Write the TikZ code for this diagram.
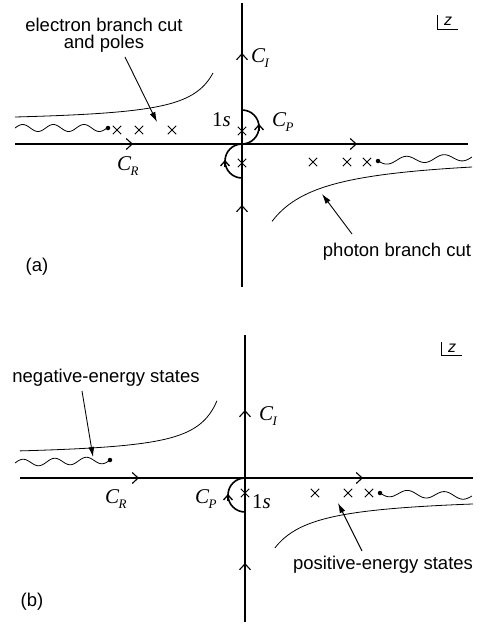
\documentclass[tikz,border=0pt]{standalone}
\usepackage{fontspec}
\setmainfont{Liberation Sans}
\newfontfamily\tms{Liberation Serif}
\usetikzlibrary{arrows.meta,shapes.misc}
\newcommand\Csub[1]{{\tms\itshape C\kern-0.5pt\raisebox{-5pt}{\fontsize{13}{13}\selectfont #1}}}
\newcommand\ones{{\tms 1\itshape s}}
\begin{document}
\begin{tikzpicture}[x=1pt,y=-1pt,
 axisline/.style={line width=1.1pt},
 loopline/.style={line width=1.6pt},
 cutline/.style={line width=0.8pt},
 wave/.style={line width=0.8pt},
 tipmk/.style={line width=1.1pt,-{Straight Barb[length=6pt,width=11pt]}},
 looptip/.style={line width=1.3pt,-{Straight Barb[length=5pt,width=9pt]}},
 pointer/.style={line width=0.9pt,-{Latex[length=10pt,width=6pt]}},
 crossmk/.style={cross out,draw,line width=0.9pt,minimum size=7.5pt,inner sep=0pt},
 lbl/.style={font=\fontsize{18.5}{17}\selectfont, inner sep=0pt, align=center},
 mlbl/.style={font=\tms\fontsize{21}{21}\selectfont, inner sep=0pt, anchor=base west},
 dotmk/.style={circle,fill,inner sep=0pt,minimum size=4.5pt},
 zlbl/.style={font=\fontsize{16}{16}\selectfont\itshape, inner sep=0pt}
]
\useasboundingbox (0,0) rectangle (482,624);

% ================= panel (a) =================
\draw[axisline] (15,144) -- (468,144);
\draw[axisline] (242,3) -- (242,287);
\draw[tipmk] (126,144) -- (133,144);
\draw[tipmk] (350,144) -- (357,144);
\draw[tipmk] (242,60) -- (242,53);
\draw[tipmk] (242,212) -- (242,205);
\draw[loopline] (242,110) arc[start angle=-90,end angle=90,radius=17];
\draw[loopline] (242,144) arc[start angle=270,end angle=90,radius=17];
\draw[looptip] (259,131) -- (259,124);
\draw[looptip] (225,167) -- (225,160);
\node[crossmk] (xa1) at (117,130) {};
\node[crossmk] (xa2) at (139,130) {};
\node[crossmk] (xa3) at (172,130) {};
\node[crossmk] (xa4) at (242,131) {};
\node[crossmk] (xa5) at (242,163) {};
\node[crossmk] (xa6) at (313,162) {};
\node[crossmk] (xa7) at (347,162) {};
\node[crossmk] (xa8) at (367,162) {};
\draw[cutline] plot[domain=15:213, samples=60, smooth] (\x, {123-1350/(240-\x)});
\draw[cutline] plot[domain=272:472, samples=60, smooth] (\x, {152.85+3566/(\x-220)});
\draw[wave] plot[domain=0:1, samples=80, smooth] ({15+\x*92}, {128-3.5*sin(1080*\x)});
\node[dotmk] (da1) at (108,128) {};
\draw[wave] plot[domain=0:1, samples=80, smooth] ({378+\x*94}, {161-\x*4+3.5*sin(900*\x)});
\node[dotmk] (da2) at (378,161) {};
\node[lbl] (elab) at (104,35) {electron branch cut\\and poles};
\coordinate (es) at (125,57);
\coordinate (et) at (157,122);
\draw[pointer] (es) -- (et);
\node[lbl] (plab) at (397,252) {photon branch cut};
\coordinate (ps) at (352,234);
\coordinate (pt) at (322,194);
\draw[pointer] (ps) -- (pt);
\node[mlbl] (cia) at (251,62) {\Csub{I}};
\node[mlbl] (cpa) at (272,126) {\Csub{P}};
\node[mlbl] (osa) at (212,126) {\ones};
\node[mlbl] (cra) at (117,170) {\Csub{R}};
\node[lbl] (la) at (37,267) {(a)};
\draw[line width=0.8pt] (437,15) -- (437,29) -- (458,29);
\node[zlbl] (za) at (448,21) {z};

% ================= panel (b) =================
\draw[axisline] (20,478) -- (473,478);
\draw[axisline] (245,335) -- (245,622);
\draw[tipmk] (132,478) -- (139,478);
\draw[tipmk] (356,478) -- (363,478);
\draw[tipmk] (245,417) -- (245,410);
\draw[tipmk] (245,570) -- (245,563);
\draw[loopline] (245,478) arc[start angle=270,end angle=90,radius=17];
\draw[looptip] (228,501) -- (228,494);
\node[crossmk] (xb1) at (245,493) {};
\node[crossmk] (xb2) at (315,493) {};
\node[crossmk] (xb3) at (348,493) {};
\node[crossmk] (xb4) at (369,493) {};
\draw[cutline] plot[domain=20:217, samples=60, smooth] (\x, {457-1350/(241-\x)});
\draw[cutline] plot[domain=275:473, samples=60, smooth] (\x, {494.9+2169/(\x-234)});
\draw[wave] plot[domain=0:1, samples=80, smooth] ({15+\x*95}, {463-\x*3-3.5*sin(1080*\x)});
\node[dotmk] (db1) at (110,460) {};
\draw[wave] plot[domain=0:1, samples=80, smooth] ({380+\x*92}, {493+\x*3+3.5*sin(900*\x)});
\node[dotmk] (db2) at (380,493) {};
\node[lbl] (nlab) at (106,378) {negative-energy states};
\coordinate (ns) at (82,391);
\coordinate (nt) at (93,457);
\draw[pointer] (ns) -- (nt);
\node[lbl] (poslab) at (383,565) {positive-energy states};
\coordinate (qs) at (362,551);
\coordinate (qt) at (338,503);
\draw[pointer] (qs) -- (qt);
\node[mlbl] (cib) at (259,420) {\Csub{I}};
\node[mlbl] (crb) at (105,503) {\Csub{R}};
\node[mlbl] (cpb) at (195,503) {\Csub{P}};
\node[mlbl] (osb) at (252,508) {\ones};
\node[lbl] (lb) at (32,602) {(b)};
\draw[line width=0.8pt] (441,342) -- (441,355) -- (462,355);
\node[zlbl] (zb) at (452,348) {z};
\end{tikzpicture}
\end{document}
